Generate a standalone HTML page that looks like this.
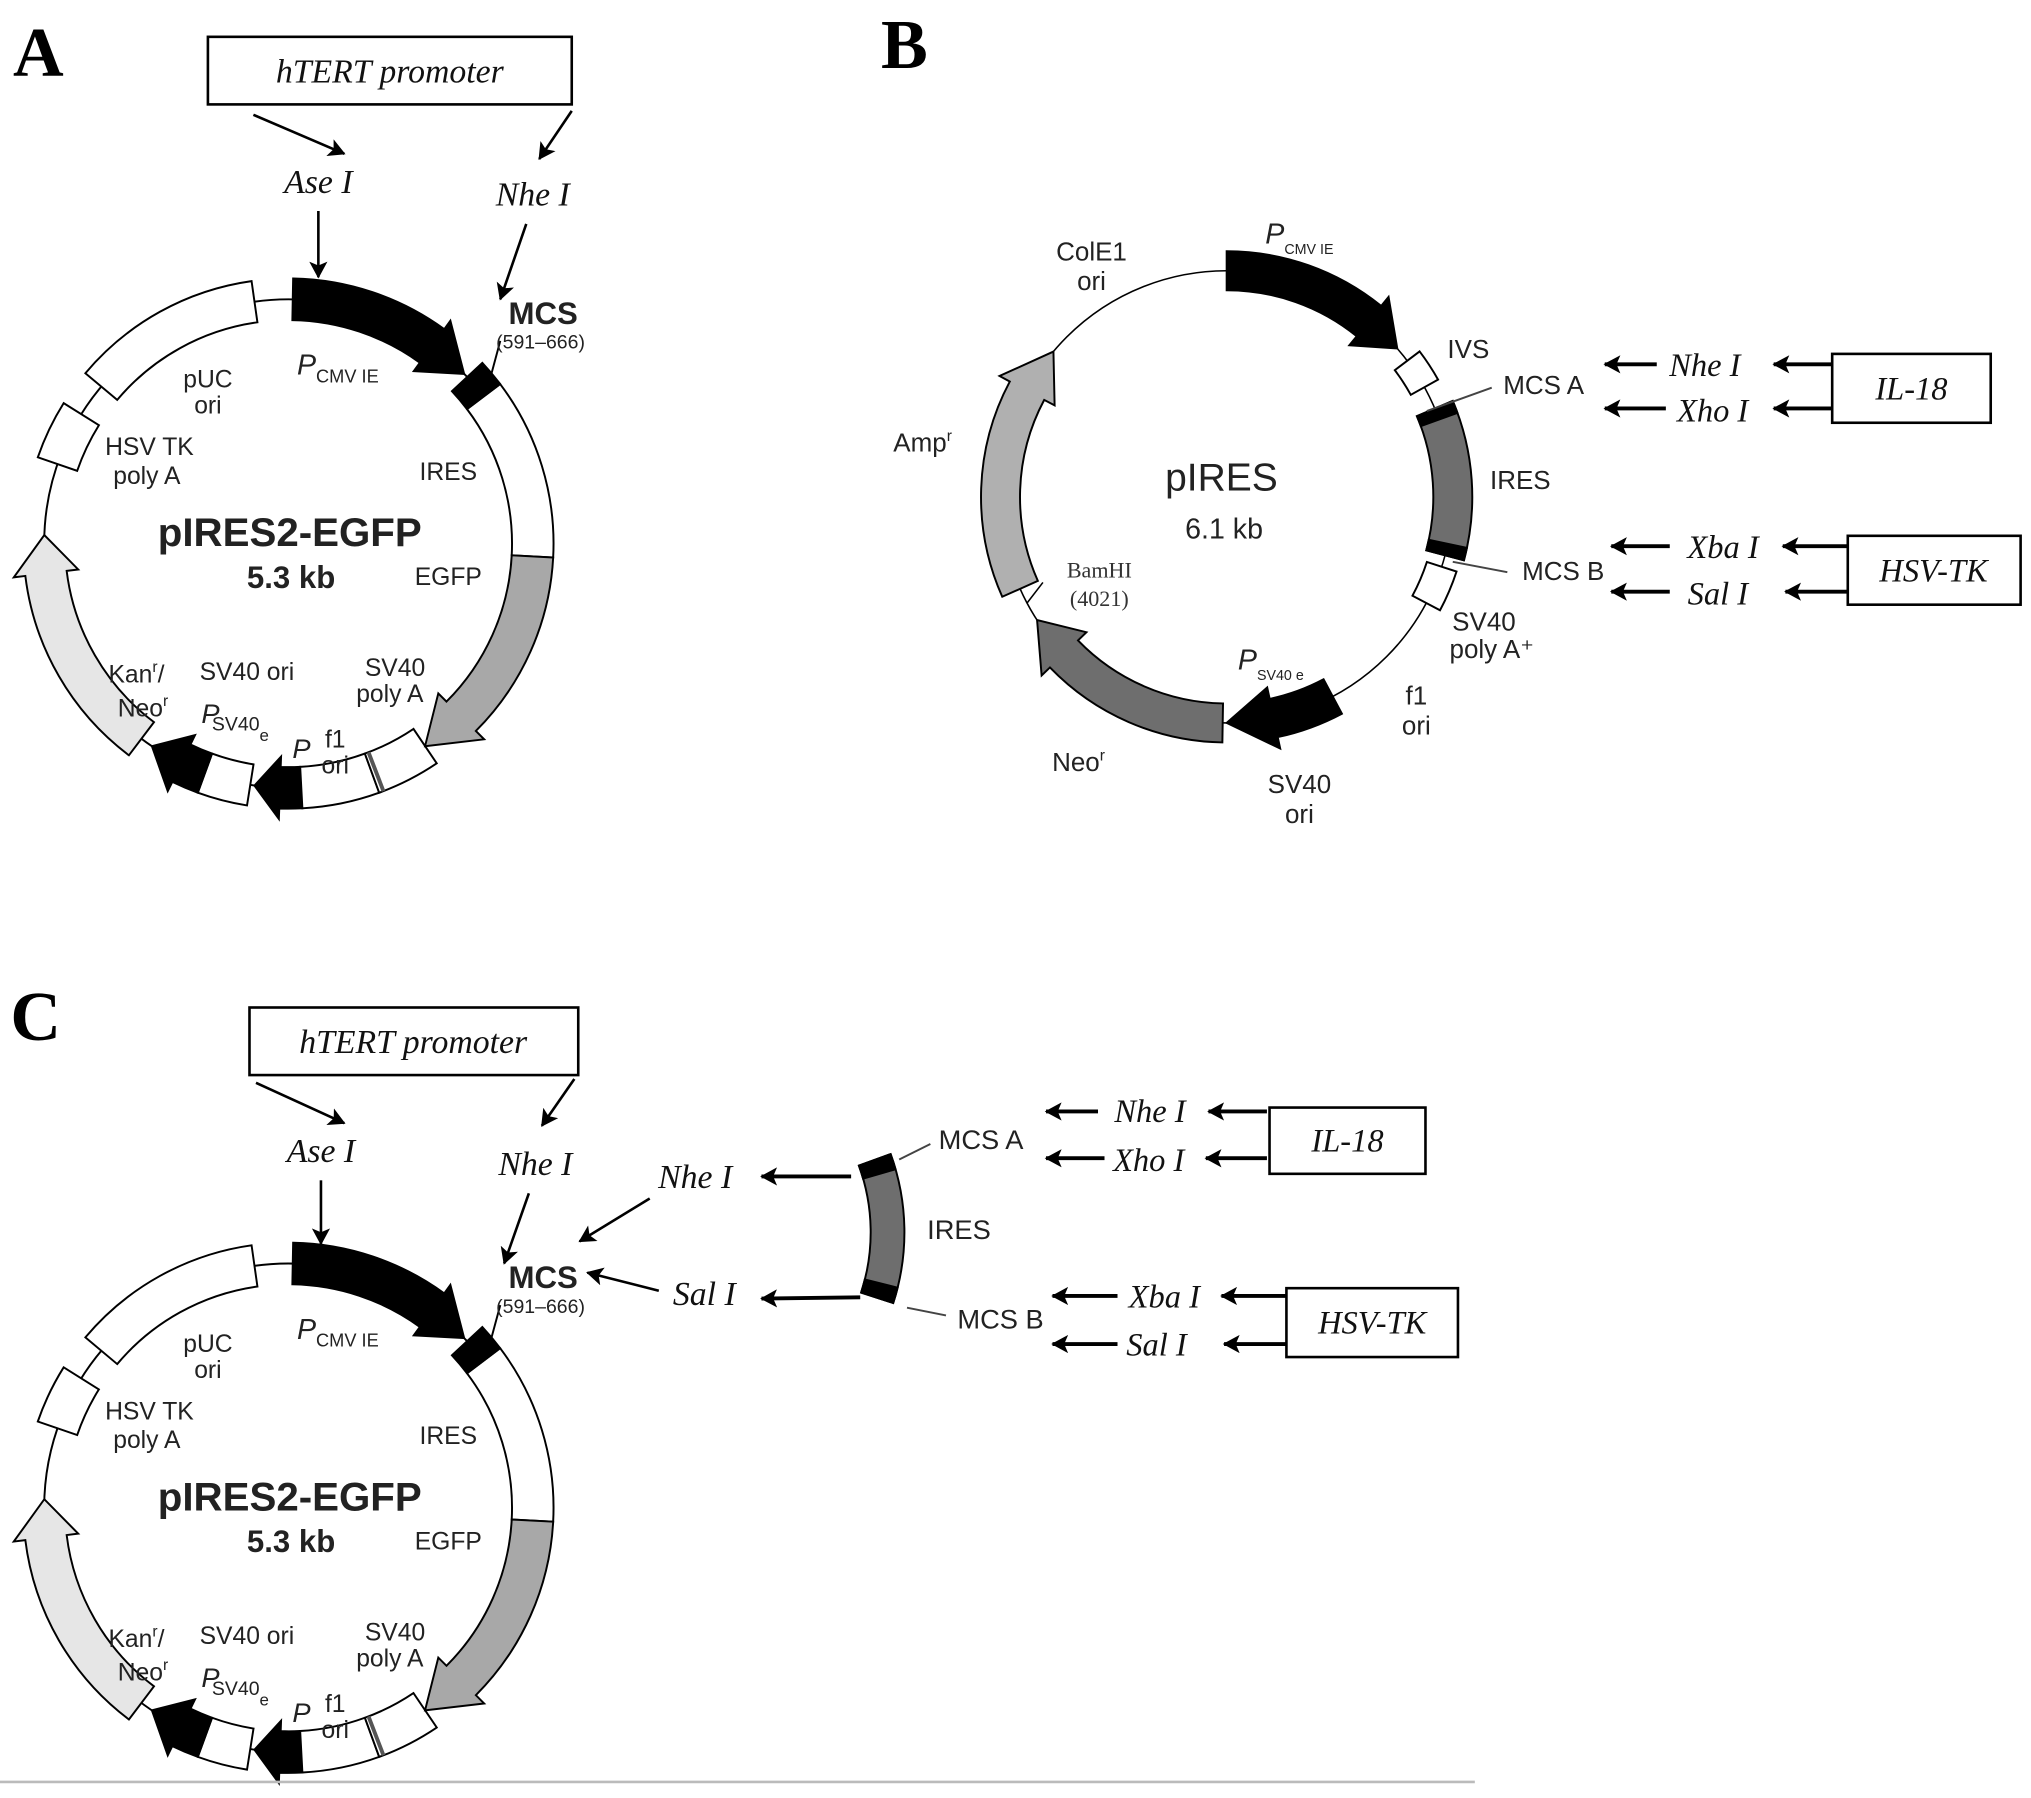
<!DOCTYPE html>
<html><head><meta charset="utf-8">
<style>
html,body{margin:0;padding:0;background:#fff;}
svg{display:block;}
.s{font-family:"Liberation Sans",sans-serif;fill:#222;}
.i{font-family:"Liberation Serif",serif;font-style:italic;fill:#111;}
.b{font-family:"Liberation Serif",serif;font-weight:bold;fill:#000;}
</style></head>
<body>
<svg id="svg" width="2031" height="1798" viewBox="0 0 1563 1383" xmlns="http://www.w3.org/2000/svg">
<defs>
<marker id="ah2" markerWidth="14" markerHeight="14" refX="12" refY="7" orient="auto" markerUnits="userSpaceOnUse">
<path d="M0,0 L13,7 L0,14 L3,7 Z" fill="#000"/></marker>
</defs>
<g id="gA"></g>
<g id="gC" transform="translate(0,742)"></g>
<g id="gB"></g>

<!-- Panel A static -->
<text x="10" y="58" class="b" font-size="54">A</text>
<rect x="160" y="28" width="280" height="52" fill="#fff" stroke="#000" stroke-width="2"/>
<text x="300" y="63" class="i" font-size="26" text-anchor="middle">hTERT promoter</text>
<line x1="195" y1="88" x2="265" y2="118" stroke="#000" stroke-width="2" marker-end="url(#ah2)"/>
<line x1="440" y1="85" x2="415" y2="122" stroke="#000" stroke-width="2" marker-end="url(#ah2)"/>
<text x="245" y="148" class="i" font-size="26" text-anchor="middle">Ase I</text>
<text x="410" y="158" class="i" font-size="26" text-anchor="middle">Nhe I</text>
<line x1="245" y1="162" x2="245" y2="213" stroke="#000" stroke-width="2" marker-end="url(#ah2)"/>
<line x1="405" y1="172" x2="385" y2="230" stroke="#000" stroke-width="2" marker-end="url(#ah2)"/>

<!-- Panel C static -->
<text x="8" y="800" class="b" font-size="54">C</text>
<rect x="192" y="775" width="253" height="52" fill="#fff" stroke="#000" stroke-width="2"/>
<text x="318" y="810" class="i" font-size="26" text-anchor="middle">hTERT promoter</text>
<line x1="197" y1="833" x2="265" y2="864" stroke="#000" stroke-width="2" marker-end="url(#ah2)"/>
<line x1="442" y1="830" x2="417" y2="866" stroke="#000" stroke-width="2" marker-end="url(#ah2)"/>
<text x="247" y="894" class="i" font-size="26" text-anchor="middle">Ase I</text>
<text x="412" y="904" class="i" font-size="26" text-anchor="middle">Nhe I</text>
<line x1="247" y1="908" x2="247" y2="957" stroke="#000" stroke-width="2" marker-end="url(#ah2)"/>
<line x1="407" y1="918" x2="388" y2="972" stroke="#000" stroke-width="2" marker-end="url(#ah2)"/>
<text x="535" y="914" class="i" font-size="26" text-anchor="middle">Nhe I</text>
<line x1="500" y1="922" x2="446" y2="955" stroke="#000" stroke-width="2" marker-end="url(#ah2)"/>
<text x="542" y="1004" class="i" font-size="26" text-anchor="middle">Sal I</text>
<line x1="507" y1="993" x2="452" y2="979" stroke="#000" stroke-width="2" marker-end="url(#ah2)"/>
<line x1="655" y1="905" x2="586" y2="905" stroke="#000" stroke-width="3" marker-end="url(#ah2)"/>
<line x1="662" y1="998" x2="586" y2="999" stroke="#000" stroke-width="3" marker-end="url(#ah2)"/>
<g id="gCi"></g>
<line x1="692" y1="892" x2="716" y2="880" stroke="#444" stroke-width="1.5"/>
<text x="755" y="884" class="s" font-size="21" text-anchor="middle">MCS A</text>
<text x="738" y="953" class="s" font-size="21" text-anchor="middle">IRES</text>
<line x1="698" y1="1006" x2="728" y2="1012" stroke="#444" stroke-width="1.5"/>
<text x="770" y="1022" class="s" font-size="21" text-anchor="middle">MCS B</text>
<line x1="845" y1="855" x2="805" y2="855" stroke="#000" stroke-width="3" marker-end="url(#ah2)"/>
<text x="885" y="863" class="i" font-size="25" text-anchor="middle">Nhe I</text>
<line x1="975" y1="855" x2="930" y2="855" stroke="#000" stroke-width="3" marker-end="url(#ah2)"/>
<line x1="850" y1="891" x2="805" y2="891" stroke="#000" stroke-width="3" marker-end="url(#ah2)"/>
<text x="884" y="901" class="i" font-size="25" text-anchor="middle">Xho I</text>
<line x1="975" y1="891" x2="928" y2="891" stroke="#000" stroke-width="3" marker-end="url(#ah2)"/>
<rect x="977" y="852" width="120" height="51" fill="#fff" stroke="#000" stroke-width="2"/>
<text x="1037" y="886" class="i" font-size="25" text-anchor="middle">IL-18</text>
<line x1="860" y1="997" x2="810" y2="997" stroke="#000" stroke-width="3" marker-end="url(#ah2)"/>
<text x="896" y="1006" class="i" font-size="25" text-anchor="middle">Xba I</text>
<line x1="990" y1="997" x2="940" y2="997" stroke="#000" stroke-width="3" marker-end="url(#ah2)"/>
<line x1="860" y1="1034" x2="810" y2="1034" stroke="#000" stroke-width="3" marker-end="url(#ah2)"/>
<text x="890" y="1043" class="i" font-size="25" text-anchor="middle">Sal I</text>
<line x1="990" y1="1034" x2="942" y2="1034" stroke="#000" stroke-width="3" marker-end="url(#ah2)"/>
<rect x="990" y="991" width="132" height="53" fill="#fff" stroke="#000" stroke-width="2"/>
<text x="1056" y="1026" class="i" font-size="25" text-anchor="middle">HSV-TK</text>
<line x1="0" y1="1371" x2="1135" y2="1371" stroke="#bbb" stroke-width="2"/>

<!-- Panel B static -->
<text x="678" y="52" class="b" font-size="54">B</text>
<text x="1000" y="187" class="s" font-size="22" font-style="italic" text-anchor="middle">P<tspan font-size="11" font-style="normal" dy="8">CMV IE</tspan></text>
<text x="840" y="200" class="s" font-size="20" text-anchor="middle">ColE1</text>
<text x="840" y="223" class="s" font-size="20" text-anchor="middle">ori</text>
<text x="1130" y="275" class="s" font-size="20" text-anchor="middle">IVS</text>
<line x1="1098" y1="316" x2="1148" y2="298" stroke="#444" stroke-width="1.5"/>
<text x="1188" y="303" class="s" font-size="20" text-anchor="middle">MCS A</text>
<text x="1170" y="376" class="s" font-size="20" text-anchor="middle">IRES</text>
<line x1="1118" y1="432" x2="1160" y2="440" stroke="#444" stroke-width="1.5"/>
<text x="1203" y="446" class="s" font-size="20" text-anchor="middle">MCS B</text>
<text x="1142" y="485" class="s" font-size="20" text-anchor="middle">SV40</text>
<text x="1148" y="506" class="s" font-size="20" text-anchor="middle">poly A⁺</text>
<text x="1090" y="542" class="s" font-size="20" text-anchor="middle">f1</text>
<text x="1090" y="565" class="s" font-size="20" text-anchor="middle">ori</text>
<text x="1000" y="610" class="s" font-size="20" text-anchor="middle">SV40</text>
<text x="1000" y="633" class="s" font-size="20" text-anchor="middle">ori</text>
<text x="978" y="515" class="s" font-size="22" font-style="italic" text-anchor="middle">P<tspan font-size="11" font-style="normal" dy="8">SV40 e</tspan></text>
<text x="830" y="593" class="s" font-size="20" text-anchor="middle">Neo<tspan font-size="12" dy="-8">r</tspan></text>
<text x="846" y="444" font-family="Liberation Serif,serif" font-size="17" fill="#333" text-anchor="middle">BamHI</text>
<text x="846" y="466" font-family="Liberation Serif,serif" font-size="17" fill="#333" text-anchor="middle">(4021)</text>
<text x="710" y="347" class="s" font-size="20" text-anchor="middle">Amp<tspan font-size="12" dy="-8">r</tspan></text>
<text x="940" y="377" class="s" font-size="30" text-anchor="middle">pIRES</text>
<text x="942" y="414" class="s" font-size="22" text-anchor="middle">6.1 kb</text>
<line x1="1275" y1="280" x2="1235" y2="280" stroke="#000" stroke-width="3" marker-end="url(#ah2)"/>
<text x="1312" y="289" class="i" font-size="25" text-anchor="middle">Nhe I</text>
<line x1="1410" y1="280" x2="1365" y2="280" stroke="#000" stroke-width="3" marker-end="url(#ah2)"/>
<line x1="1282" y1="314" x2="1235" y2="314" stroke="#000" stroke-width="3" marker-end="url(#ah2)"/>
<text x="1318" y="324" class="i" font-size="25" text-anchor="middle">Xho I</text>
<line x1="1410" y1="314" x2="1365" y2="314" stroke="#000" stroke-width="3" marker-end="url(#ah2)"/>
<rect x="1410" y="272" width="122" height="53" fill="#fff" stroke="#000" stroke-width="2"/>
<text x="1471" y="307" class="i" font-size="25" text-anchor="middle">IL-18</text>
<line x1="1285" y1="420" x2="1240" y2="420" stroke="#000" stroke-width="3" marker-end="url(#ah2)"/>
<text x="1326" y="429" class="i" font-size="25" text-anchor="middle">Xba I</text>
<line x1="1422" y1="420" x2="1372" y2="420" stroke="#000" stroke-width="3" marker-end="url(#ah2)"/>
<line x1="1285" y1="455" x2="1240" y2="455" stroke="#000" stroke-width="3" marker-end="url(#ah2)"/>
<text x="1322" y="465" class="i" font-size="25" text-anchor="middle">Sal I</text>
<line x1="1422" y1="455" x2="1374" y2="455" stroke="#000" stroke-width="3" marker-end="url(#ah2)"/>
<rect x="1422" y="412" width="133" height="53" fill="#fff" stroke="#000" stroke-width="2"/>
<text x="1488" y="447" class="i" font-size="25" text-anchor="middle">HSV-TK</text>
</svg>
<script>
var NS="http://www.w3.org/2000/svg";
function P(cx,cy,r,a){var t=a*Math.PI/180;return [cx+r*Math.sin(t),cy-r*Math.cos(t)];}
function f(p){return p[0].toFixed(1)+","+p[1].toFixed(1);}
function arcTo(cx,cy,r,a1,a2){var p=P(cx,cy,r,a2);var large=Math.abs(a2-a1)>180?1:0;var sw=a2>a1?1:0;return " A"+r+","+r+" 0 "+large+" "+sw+" "+f(p);}
function block(cx,cy,r1,r2,a1,a2){return "M"+f(P(cx,cy,r2,a1))+arcTo(cx,cy,r2,a1,a2)+" L"+f(P(cx,cy,r1,a2))+arcTo(cx,cy,r1,a2,a1)+" Z";}
function arrow(cx,cy,r1,r2,a1,ah,a2,b){var rm=(r1+r2)/2;return "M"+f(P(cx,cy,r2,a1))+arcTo(cx,cy,r2,a1,ah)+" L"+f(P(cx,cy,r2+b,ah))+" L"+f(P(cx,cy,rm,a2))+" L"+f(P(cx,cy,r1-b,ah))+" L"+f(P(cx,cy,r1,ah))+arcTo(cx,cy,r1,ah,a1)+" Z";}
function add(g,tag,attrs,txt){var e=document.createElementNS(NS,tag);for(var k in attrs)e.setAttribute(k,attrs[k]);if(txt!==undefined)e.innerHTML=txt;g.appendChild(e);return e;}
function path(g,d,fill,sw){add(g,"path",{d:d,fill:fill,stroke:"#000","stroke-width":sw||1.5,"stroke-linejoin":"miter"});}

function drawA(g){
 var cx=222,cy=418,r=188,r1=172,r2=204;
 add(g,"circle",{cx:cx,cy:cy,r:r,fill:"none",stroke:"#000","stroke-width":1.5});
 path(g,block(cx,cy,r1,r2,310,352),"#fff");          // pUC ori
 path(g,block(cx,cy,r1,r2,289,302),"#fff");          // HSV TK polyA
 path(g,arrow(cx,cy,r1,r2,217,263,272,9),"#e6e6e6"); // Kan/Neo
 path(g,block(cx,cy,r1,r2,189,200),"#fff");          // small white
 path(g,arrow(cx,cy,r1,r2,200,206,214,8),"#000");    // Psv40 black
 path(g,arrow(cx,cy,r1,r2,177,182,188,8),"#000");    // P black
 path(g,block(cx,cy,r1,r2,160,177),"#fff");          // f1 ori
 path(g,block(cx,cy,r1,r2,146,160),"#fff");          // SV40 polyA
 add(g,"path",{d:"M"+f(P(cx,cy,r1,159))+" L"+f(P(cx,cy,r2,159)),stroke:"#555","stroke-width":3});
 path(g,block(cx,cy,r1,r2,53,93),"#fff");            // IRES
 path(g,arrow(cx,cy,r1,r2,93,135,146,9),"#a8a8a8");  // EGFP
 path(g,block(cx,cy,r1,r2,47,53),"#000");            // MCS
 path(g,arrow(cx,cy,r1,r2,1,36,46,8),"#000");        // PCMV
 add(g,"path",{d:"M"+f(P(cx,cy,r2,50))+" L385,262",stroke:"#000","stroke-width":1.5,fill:"none"});
 var t=function(x,y,s,txt,ex){add(g,"text",Object.assign({x:x,y:y,"font-size":s,"text-anchor":"middle","class":"s"},ex||{}),txt);};
 t(160,298,19,"pUC");t(160,318,19,"ori");
 t(260,288,22,"P<tspan font-size='14' font-style='normal' dy='6'>CMV  IE</tspan>",{"font-style":"italic"});
 t(418,249,24,"MCS",{"font-weight":"bold"});
 t(416,268,15,"(591–666)",{fill:"#444"});
 t(345,369,19,"IRES");
 t(115,350,19,"HSV TK");t(113,372,19,"poly A");
 t(223,420,31,"pIRES2-EGFP",{"font-weight":"bold"});
 t(224,452,24,"5.3 kb",{"font-weight":"bold"});
 t(345,450,19,"EGFP");
 t(105,525,19,"Kan<tspan font-size='12' dy='-8'>r</tspan><tspan dy='8'>/</tspan>");
 t(110,551,19,"Neo<tspan font-size='12' dy='-8'>r</tspan>");
 t(190,523,19,"SV40 ori");
 t(162,556,21,"P",{"font-style":"italic"});
 t(185,562,15,"SV40<tspan font-size='13' dy='8'>e</tspan>");
 t(304,520,19,"SV40");t(300,540,19,"poly A");
 t(232,583,21,"P",{"font-style":"italic"});
 t(258,575,19,"f1");t(258,595,19,"ori");
}
drawA(document.getElementById("gA"));
drawA(document.getElementById("gC"));

(function(){
 var g=document.getElementById("gB");
 var cx=944,cy=382,r=174,r1=159,r2=189;
 add(g,"circle",{cx:cx,cy:cy,r:r,fill:"none",stroke:"#000","stroke-width":1.2});
 path(g,arrow(cx,cy,r1,r2,0,39,49,9),"#000");
 path(g,block(cx,cy,r1+3,r2-3,53,61),"#fff");
 path(g,block(cx,cy,r1,r2,67,105),"#6e6e6e");
 path(g,block(cx,cy,r1,r2,67,70),"#000");
 path(g,block(cx,cy,r1,r2,102,105),"#000");
 path(g,block(cx,cy,r1+3,r2-3,108,118),"#fff");
 path(g,arrow(cx,cy,r1,r2,152,168,180,9),"#000");
 path(g,arrow(cx,cy,r1,r2,181,226,237,9),"#6e6e6e");
 add(g,"path",{d:"M"+f(P(cx,cy,r,242))+" L"+f(P(cx,cy,r-18,245)),stroke:"#000","stroke-width":1.2});
 path(g,arrow(cx,cy,r1,r2,246,298,310,9),"#b0b0b0");
})();

(function(){
 var g=document.getElementById("gCi");
 var cx=520,cy=948,r1=150,r2=176;
 path(g,block(cx,cy,r1,r2,70,108),"#6e6e6e");
 path(g,block(cx,cy,r1,r2,70,74),"#000");
 path(g,block(cx,cy,r1,r2,104,108),"#000");
})();
</script>
</body></html>
